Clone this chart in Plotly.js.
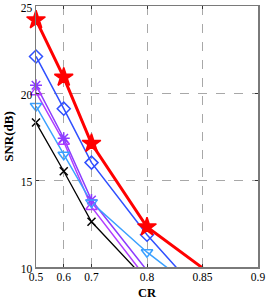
<!DOCTYPE html>
<html><head><meta charset="utf-8">
<script src="https://cdn.plot.ly/plotly-3.0.1.min.js"></script>
<style>html,body{margin:0;padding:0;background:#fff;}#chart{width:266px;height:299px;}</style>
</head><body><div id="chart"></div>
<script>
// CR categories and their positions on the (non-uniform) x axis
const crLabels = ['0.5', '0.6', '0.7', '0.8', '0.85', '0.9'];
const crPositions = [0, 1, 2, 4, 6, 8];

const snrRed = [24.2, 20.9, 17.1, 12.3, 9.95];
const snrBlue = [22.1, 19.1, 16.0, 11.85, 8.3];
const snrLightBlue = [19.25, 16.45, 13.7, 10.85, 8.4];
const snrPurple = [20.45, 17.4, 13.85, 9.8];
const snrViolet = [20.05, 17.2, 13.45, 9.3];
const snrBlack = [18.3, 15.5, 12.6, 9.2];

const series = [
  {y: snrBlack, color: '#000000', symbol: 'x-thin-open', size: 8, width: 1.3},
  {y: snrViolet, color: '#b13cff', symbol: 'triangle-up-open', size: 10, width: 1.5},
  {y: snrPurple, color: '#8c3cff', symbol: 'asterisk-open', size: 10, width: 1.5},
  {y: snrLightBlue, color: '#3aa0ff', symbol: 'triangle-down-open', size: 10, width: 1.5},
  {y: snrBlue, color: '#3050ff', symbol: 'diamond-open', size: 10, width: 1.5},
  {y: snrRed, color: '#ff0000', symbol: 'star', size: 14, width: 3}
];

const traces = [];
series.forEach(s => {
  const xs = crPositions.slice(0, s.y.length);
  traces.push({x: xs, y: s.y, mode: 'lines', line: {color: s.color, width: s.width}, showlegend: false, hoverinfo: 'skip'});
});
series.forEach(s => {
  const xs = crPositions.slice(0, s.y.length);
  traces.push({x: xs, y: s.y, mode: 'markers', cliponaxis: false,
    marker: {symbol: s.symbol, size: s.size, color: s.color, line: {color: s.color, width: 1.5}},
    showlegend: false, hoverinfo: 'skip'});
});

const fam = 'Liberation Serif, Times New Roman, serif';
const tickFont = {family: fam, size: 11.5, color: '#000'};
const layout = {
  width: 266, height: 299,
  margin: {l: 36, r: 8, t: 6, b: 32, pad: 0},
  paper_bgcolor: '#fff', plot_bgcolor: '#fff',
  font: tickFont,
  showlegend: false,
  xaxis: {
    range: [0, 8], tickvals: crPositions, ticktext: crLabels,
    showgrid: true, gridcolor: '#a8a8a8', griddash: 'dash', gridwidth: 1,
    zeroline: false, showline: true, linecolor: '#7a7a7a', linewidth: 1.5, mirror: 'ticks',
    ticks: 'inside', ticklen: 3, tickcolor: '#333', ticklabelstandoff: -1,
    tickfont: tickFont
  },
  yaxis: {
    range: [10, 25], tickvals: [10, 15, 20, 25],
    showgrid: true, gridcolor: '#a8a8a8', griddash: 'dash', gridwidth: 1,
    zeroline: false, showline: true, linecolor: '#7a7a7a', linewidth: 1.5, mirror: 'ticks',
    ticks: 'inside', ticklen: 3, tickcolor: '#333', ticklabelshift: 2,
    tickfont: tickFont,
    title: {text: '<b>SNR(dB)</b>', font: {family: fam, size: 13, color: '#000'}, standoff: 4}
  },
  annotations: [{
    text: '<b>CR</b>', xref: 'paper', yref: 'paper', x: 0.5, y: -32 / 261,
    xanchor: 'center', yanchor: 'bottom', yshift: -2, borderpad: 0, showarrow: false,
    font: {family: fam, size: 12.5, color: '#000'}
  }]
};
Plotly.newPlot('chart', traces, layout, {staticPlot: true, displayModeBar: false});
</script></body></html>
